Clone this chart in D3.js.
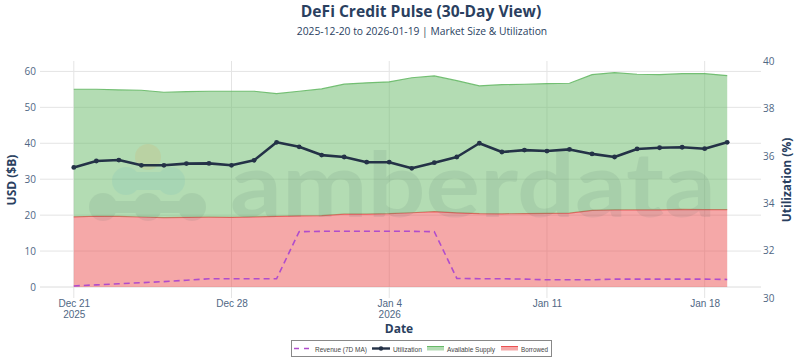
<!DOCTYPE html>
<html>
<head>
<meta charset="utf-8">
<script src="https://cdn.jsdelivr.net/npm/d3@7"></script>
<style>
  body { margin: 0; background: #fff; }
  svg { display: block; font-family: "Open Sans", sans-serif; }
</style>
</head>
<body>
<div id="chart"></div>
<script>
var dates = ["2025-12-21","2025-12-22","2025-12-23","2025-12-24","2025-12-25","2025-12-26","2025-12-27",
  "2025-12-28","2025-12-29","2025-12-30","2025-12-31","2026-01-01","2026-01-02","2026-01-03","2026-01-04",
  "2026-01-05","2026-01-06","2026-01-07","2026-01-08","2026-01-09","2026-01-10","2026-01-11","2026-01-12",
  "2026-01-13","2026-01-14","2026-01-15","2026-01-16","2026-01-17","2026-01-18","2026-01-19"];
var borrowed = [19.54,19.69,19.65,19.49,19.30,19.39,19.44,19.39,19.51,19.68,19.82,19.86,20.30,20.30,20.40,
  20.66,20.98,20.65,20.44,20.37,20.45,20.49,20.57,21.32,21.45,21.49,21.48,21.59,21.56,21.51];
var available = [35.50,35.35,35.20,35.27,34.90,34.98,35.04,35.09,34.97,34.13,34.66,35.26,36.16,36.52,36.70,
  37.58,37.76,36.78,35.52,35.95,35.98,36.11,36.14,37.78,38.21,37.72,37.62,37.79,37.82,37.32];
var utilization = [35.51,35.78,35.82,35.60,35.60,35.67,35.68,35.60,35.81,36.57,36.38,36.03,35.95,35.73,35.73,
  35.47,35.71,35.95,36.53,36.16,36.24,36.20,36.27,36.08,35.95,36.29,36.34,36.36,36.30,36.57];
var revenue = [0.3,0.6,0.9,1.2,1.5,1.9,2.3,2.3,2.3,2.3,15.4,15.5,15.5,15.5,15.5,15.5,15.4,2.4,2.3,2.3,
  2.2,2.0,2.0,2.0,2.2,2.2,2.2,2.2,2.2,2.1];
var xTicks = ["2025-12-21","2025-12-28","2026-01-04","2026-01-11","2026-01-18"];
var leftTicks = [0,10,20,30,40,50,60];
var rightTicks = [30,32,34,36,38,40];

var width = 800, height = 364;
var plot = { left: 40, right: 761, top: 61, bottom: 298 };
var ink = "#2a3f5f", tickInk = "#506784", grid = "#e4e4e4";
var greenLine = "rgb(103,185,103)", redLine = "rgb(235,81,81)";
var navy = "#243247", purple = "#b04ccc";

var parse = d3.utcParse("%Y-%m-%d");
var rows = dates.map(function (d, i) {
  return { date: parse(d), borrowed: borrowed[i], available: available[i], util: utilization[i], rev: revenue[i] };
});

var x = d3.scaleUtc()
  .domain([new Date(Date.UTC(2025, 11, 19, 12)), new Date(Date.UTC(2026, 0, 20, 12))])
  .range([plot.left, plot.right]);
var yL = d3.scaleLinear().domain([-3.06, 62.9]).range([plot.bottom, plot.top]);
var yR = d3.scaleLinear().domain([30, 40]).range([plot.bottom, plot.top]);

var svg = d3.select("#chart").append("svg").attr("width", width).attr("height", height);

// grid
var g = svg.append("g");
g.selectAll(".vg").data(xTicks).enter().append("line")
  .attr("x1", function (d) { return x(parse(d)); }).attr("x2", function (d) { return x(parse(d)); })
  .attr("y1", plot.top).attr("y2", plot.bottom).attr("stroke", grid).attr("stroke-width", 1);
g.selectAll(".hg").data(leftTicks).enter().append("line")
  .attr("x1", plot.left).attr("x2", plot.right)
  .attr("y1", function (d) { return yL(d); }).attr("y2", function (d) { return yL(d); })
  .attr("stroke", function (d) { return d === 0 ? "#dcdcdc" : grid; }).attr("stroke-width", 1);

// stacked areas
var stack = d3.stack().keys(["borrowed", "available"]);
var series = stack(rows);
var area = d3.area()
  .x(function (d) { return x(d.data.date); })
  .y0(function (d) { return yL(d[0]); })
  .y1(function (d) { return yL(d[1]); });
var topLine = d3.line()
  .x(function (d) { return x(d.data.date); })
  .y(function (d) { return yL(d[1]); });
var fills = [redLine, greenLine];
series.forEach(function (s, i) {
  svg.append("path").datum(s).attr("d", area).attr("fill", fills[i]).attr("fill-opacity", 0.5);
  svg.append("path").datum(s).attr("d", topLine).attr("fill", "none")
    .attr("stroke", fills[i]).attr("stroke-width", 1.2).attr("stroke-opacity", 0.9);
});

// watermark
var wm = svg.append("g").attr("opacity", 0.09);
[[103, 207, 14], [148, 207, 14], [192, 207, 14]].forEach(function (c) {
  wm.append("circle").attr("cx", c[0]).attr("cy", c[1]).attr("r", c[2]).attr("fill", "#3d5a55");
});
wm.append("rect").attr("x", 103).attr("y", 201).attr("width", 89).attr("height", 12).attr("fill", "#3d5a55");
var teal = svg.append("g").attr("opacity", 0.1);
[[126, 181, 14], [171, 181, 14]].forEach(function (c) {
  teal.append("circle").attr("cx", c[0]).attr("cy", c[1]).attr("r", c[2]).attr("fill", "#4aa8c0");
});
teal.append("rect").attr("x", 126).attr("y", 172).attr("width", 45).attr("height", 18).attr("fill", "#4aa8c0");
svg.append("circle").attr("cx", 148).attr("cy", 157).attr("r", 13).attr("fill", "#e0a050").attr("opacity", 0.16);
wm.append("text").attr("x", 230).attr("y", 217).attr("font-size", 90).attr("font-family", "Lato, sans-serif")
  .attr("font-weight", "bold").attr("fill", "#3d5a55").attr("textLength", 486).attr("lengthAdjust", "spacingAndGlyphs")
  .text("amberdata");

// revenue dashed
var revLine = d3.line().x(function (d) { return x(d.date); }).y(function (d) { return yL(d.rev); });
svg.append("path").datum(rows).attr("d", revLine).attr("fill", "none")
  .attr("stroke", purple).attr("stroke-width", 1.6).attr("stroke-dasharray", "6,4");

// utilization
var utilLine = d3.line().x(function (d) { return x(d.date); }).y(function (d) { return yR(d.util); });
svg.append("path").datum(rows).attr("d", utilLine).attr("fill", "none")
  .attr("stroke", navy).attr("stroke-width", 2.6).attr("stroke-linejoin", "round");
svg.selectAll(".pt").data(rows).enter().append("circle")
  .attr("cx", function (d) { return x(d.date); }).attr("cy", function (d) { return yR(d.util); })
  .attr("r", 2.4).attr("fill", navy);

// axes
var fmtM = d3.utcFormat("%b %-d");
var xAxis = svg.append("g").attr("transform", "translate(0," + plot.bottom + ")")
  .call(d3.axisBottom(x).tickValues(xTicks.map(parse)).tickSize(0).tickFormat(""));
xAxis.select(".domain").remove();
xAxis.selectAll(".tick").each(function (d) {
  var t = d3.select(this).append("text").attr("fill", tickInk).attr("font-size", 10)
    .attr("text-anchor", "middle");
  t.append("tspan").attr("x", 0).attr("y", 9).text(fmtM(d));
  if (d.getUTCDate() === 21 && d.getUTCMonth() === 11 || d.getUTCDate() === 4 && d.getUTCMonth() === 0) {
    t.append("tspan").attr("x", 0).attr("y", 20).text(d.getUTCFullYear());
  }
});

var yAxisL = svg.append("g").attr("transform", "translate(" + plot.left + ",0)")
  .call(d3.axisLeft(yL).tickValues(leftTicks).tickSize(0).tickPadding(4));
yAxisL.select(".domain").remove();
yAxisL.selectAll("text").attr("fill", tickInk).attr("font-size", 10).attr("font-family", "Open Sans, sans-serif");

var yAxisR = svg.append("g").attr("transform", "translate(" + plot.right + ",0)")
  .call(d3.axisRight(yR).tickValues(rightTicks).tickSize(0).tickPadding(2));
yAxisR.select(".domain").remove();
yAxisR.selectAll("text").attr("fill", tickInk).attr("font-size", 10).attr("font-family", "Open Sans, sans-serif");

// titles
svg.append("text").attr("x", 421).attr("y", 17).attr("text-anchor", "middle").attr("font-size", 15.6)
  .attr("font-weight", "bold").attr("fill", ink).text("DeFi Credit Pulse (30-Day View)");
svg.append("text").attr("x", 422).attr("y", 35).attr("text-anchor", "middle").attr("font-size", 10.3)
  .attr("fill", ink).text("2025-12-20 to 2026-01-19 | Market Size & Utilization");
svg.append("text").attr("x", 399).attr("y", 333).attr("text-anchor", "middle").attr("font-size", 12)
  .attr("font-weight", "bold").attr("fill", ink).text("Date");
svg.append("text").attr("transform", "translate(16,180) rotate(-90)").attr("text-anchor", "middle")
  .attr("font-size", 12).attr("font-weight", "bold").attr("fill", ink).text("USD ($B)");
svg.append("text").attr("transform", "translate(791,180) rotate(-90)").attr("text-anchor", "middle")
  .attr("font-size", 12).attr("font-weight", "bold").attr("fill", ink).text("Utilization (%)");

// legend
var leg = svg.append("g");
leg.append("rect").attr("x", 291.5).attr("y", 340.5).attr("width", 260).attr("height", 16)
  .attr("fill", "#fff").attr("stroke", "#888").attr("stroke-width", 1);
var items = [
  { label: "Revenue (7D MA)", x: 294, tx: 315, tw: 52, kind: "dash" },
  { label: "Utilization", x: 372, tx: 393, tw: 29, kind: "util" },
  { label: "Available Supply", x: 427, tx: 447, tw: 48, kind: "green" },
  { label: "Borrowed", x: 501, tx: 521, tw: 27, kind: "red" }
];
items.forEach(function (it) {
  var cy = 348.5;
  if (it.kind === "dash") {
    leg.append("line").attr("x1", it.x).attr("x2", it.x + 17).attr("y1", cy).attr("y2", cy)
      .attr("stroke", purple).attr("stroke-width", 1.6).attr("stroke-dasharray", "5,5");
  } else if (it.kind === "util") {
    leg.append("line").attr("x1", it.x).attr("x2", it.x + 18).attr("y1", cy).attr("y2", cy)
      .attr("stroke", navy).attr("stroke-width", 2.4);
    leg.append("circle").attr("cx", it.x + 9).attr("cy", cy).attr("r", 2.2).attr("fill", navy);
  } else {
    var c = it.kind === "green" ? greenLine : redLine;
    leg.append("rect").attr("x", it.x).attr("y", cy - 2).attr("width", 17).attr("height", 4)
      .attr("fill", c).attr("fill-opacity", 0.5);
    leg.append("line").attr("x1", it.x).attr("x2", it.x + 17).attr("y1", cy - 2).attr("y2", cy - 2)
      .attr("stroke", c).attr("stroke-width", 1);
  }
  leg.append("text").attr("x", it.tx).attr("y", cy + 3).attr("font-size", 8)
    .attr("font-family", "Liberation Sans, Arial, sans-serif").attr("fill", "#444")
    .attr("textLength", it.tw).attr("lengthAdjust", "spacingAndGlyphs").text(it.label);
});
</script>
</body>
</html>
